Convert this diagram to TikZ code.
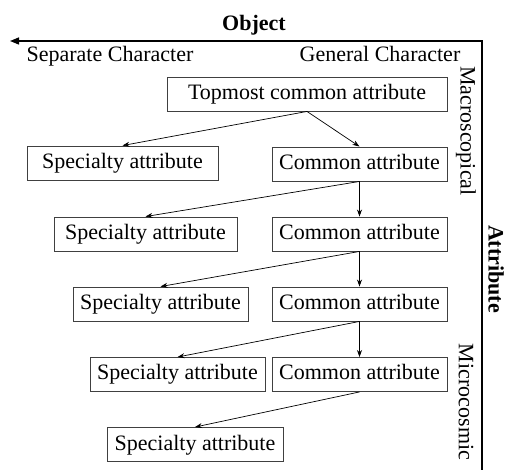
\documentclass[tikz,border=0pt]{standalone}
\usepackage{fontspec}
\setmainfont{Liberation Serif}
\usetikzlibrary{arrows.meta}
\begin{document}
\begin{tikzpicture}[x=1pt,y=-1pt,
  every node/.style={font=\fontsize{22}{26}\selectfont},
  box/.style={draw=black!75, line width=0.9pt, inner sep=0pt, minimum height=34pt,
    text height=15pt, text depth=4pt},
  conn/.style={line width=0.7pt, -{Stealth[length=7pt,width=5pt]}},
  axis/.style={line width=1.4pt, line join=miter}
]
\useasboundingbox (0,0) rectangle (509,470);
% axes
\coordinate (corner) at (482,41);
\coordinate (xend) at (10,41);
\coordinate (yend) at (482,472);
\draw[axis, -{Triangle[length=9pt,width=7pt]}] (yend) -- (corner) -- (xend);
\node[font=\fontsize{22}{26}\selectfont\bfseries, anchor=base] (obj) at (254,31) {Object};
\node[anchor=base] (sep) at (110,62) {Separate Character};
\node[anchor=base] (gen) at (380,62) {General Character};
\node[rotate=-90] (macro) at (466,131) {Macroscopical};
\node[rotate=-90] (micro) at (466,402) {Microcosmic};
\node[rotate=-90, font=\fontsize{22}{26}\selectfont\bfseries] (attr) at (496,269) {Attribute};
% boxes
\node[box, minimum width=280pt] (T) at (307,94) {Topmost common attribute};
\node[box, minimum width=191pt] (S1) at (122.5,163) {Specialty attribute};
\node[box, minimum width=175pt] (C1) at (359.5,164) {Common attribute};
\node[box, minimum width=183pt] (S2) at (145.5,234) {Specialty attribute};
\node[box, minimum width=175pt] (C2) at (359.5,234) {Common attribute};
\node[box, minimum width=175pt] (S3) at (160.5,304) {Specialty attribute};
\node[box, minimum width=175pt] (C3) at (359.5,304) {Common attribute};
\node[box, minimum width=175pt] (S4) at (177.5,374.5) {Specialty attribute};
\node[box, minimum width=175pt] (C4) at (359.5,374.5) {Common attribute};
\node[box, minimum width=176pt] (S5) at (195,444.5) {Specialty attribute};
% connectors
\draw[conn] (T.south) -- (S1.north);
\draw[conn] (T.south) -- (C1.north);
\draw[conn] (C1.south) -- (S2.north);
\draw[conn] (C1.south) -- (C2.north);
\draw[conn] (C2.south) -- (S3.north);
\draw[conn] (C2.south) -- (C3.north);
\draw[conn] (C3.south) -- (S4.north);
\draw[conn] (C3.south) -- (C4.north);
\draw[conn] (C4.south) -- (S5.north);
\end{tikzpicture}
\end{document}
